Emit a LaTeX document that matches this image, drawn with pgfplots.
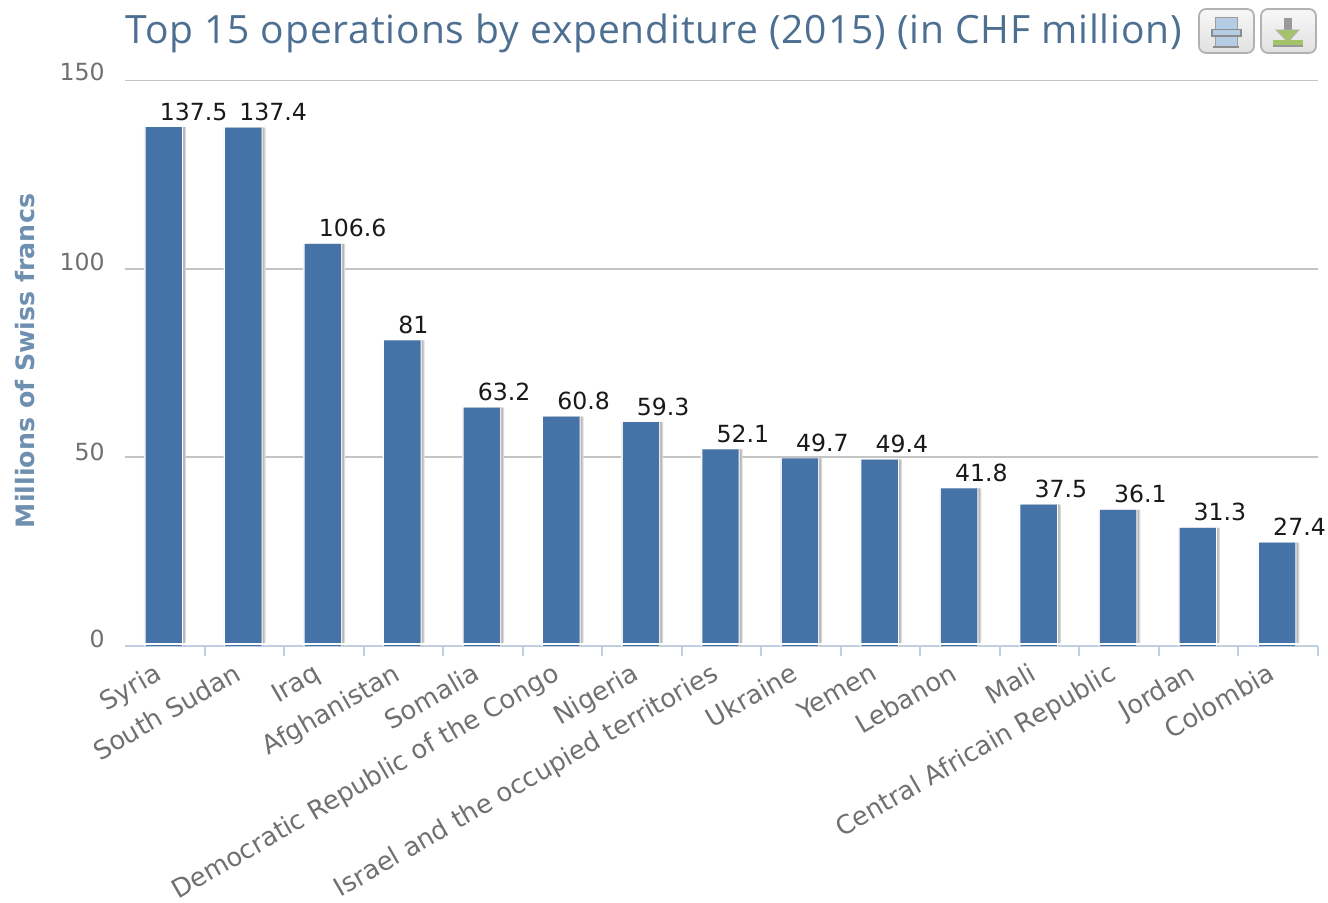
\documentclass[border=0pt]{standalone}
\usepackage{pgfplots}
\pgfplotsset{compat=1.18}
\usepackage{pgfplotstable}
\usepackage{fontspec}
\setmainfont{DejaVu Sans}
\newfontfamily\titlefont[LetterSpace=2.2]{Open Sans}
\definecolor{barblue}{HTML}{4572A7}
\definecolor{titleblue}{HTML}{4D6F91}
\definecolor{ylabblue}{HTML}{6E8FB0}
\definecolor{axisblue}{HTML}{C0D0E0}
\definecolor{gridgray}{HTML}{C4C4C4}
\definecolor{labgray}{HTML}{707070}
\definecolor{iconblue}{HTML}{B4CCE4}
\definecolor{icongreen}{HTML}{A4C46C}
\pgfplotstableread{
x v
0 137.5
1 137.4
2 106.6
3 81
4 63.2
5 60.8
6 59.3
7 52.1
8 49.7
9 49.4
10 41.8
11 37.5
12 36.1
13 31.3
14 27.4
}\expend
\begin{document}
\begin{tikzpicture}[x=1pt,y=1pt]
\path[use as bounding box] (0,0) rectangle (664,451);
\begin{axis}[
  at={(62.5pt,128pt)}, anchor=south west,
  scale only axis, width=596.5pt, height=283pt,
  xmin=-0.5, xmax=14.5, ymin=0, ymax=150,
  axis x line*=bottom, axis y line=none,
  ytick={0,50,100,150},
  xtick={0,...,14},
  xticklabels={Syria,South Sudan,Iraq,Afghanistan,Somalia,Democratic Republic of the Congo,Nigeria,Israel and the occupied territories,Ukraine,Yemen,Lebanon,Mali,Central Africain Republic,Jordan,Colombia},
  minor xtick={0.5,1.5,...,14.5},
  major tick length=0pt,
  minor tick length=5pt,
  tick align=outside,
  x axis line style={draw=axisblue,line width=1pt,-},
  minor x tick style={draw=axisblue,line width=1pt},
  xticklabel style={rotate=30,anchor=north east,font=\fontsize{12.9pt}{15pt}\selectfont,text=labgray,inner sep=0pt,xshift=-8.8pt,yshift=-3.8pt},
  /pgf/number format/assume math mode=true,
  clip=true,
]
\pgfplotsinvokeforeach{50,100,150}{
  \addplot[draw=gridgray,line width=1pt,forget plot] coordinates {(-0.5,#1) (14.5,#1)};
}
\addplot[ybar,bar width=20pt,bar shift=-0.4pt,fill=black!6,draw=none,forget plot] table[x=x,y=v] {\expend};
\addplot[ybar,bar width=19pt,bar shift=1.1pt,fill=black!14,draw=none,forget plot] table[x=x,y=v] {\expend};
\addplot[ybar,bar width=19pt,bar shift=0.5pt,fill=black!28,draw=none,forget plot] table[x=x,y=v] {\expend};
\addplot[ybar,bar width=19.2pt,bar shift=-0.5pt,fill=white,draw=none,forget plot] table[x=x,y=v] {\expend};
\addplot[ybar,bar width=18.2pt,bar shift=-0.5pt,fill=barblue,draw=none,
  nodes near coords,
  every node near coord/.style={anchor=base west,xshift=-2.7pt,yshift=3.5pt,inner sep=0pt,text=black!90,font=\fontsize{11.8pt}{14pt}\selectfont},
  clip=false,
] table[x=x,y=v] {\expend};
\addplot[draw=white,line width=1.2pt,forget plot] coordinates {(-0.5,0.6) (14.5,0.6)};
\end{axis}
% y axis text
\foreach \lab/\py in {150/415,100/320,50/225,0/131.5}{
  \node[anchor=east,inner sep=0pt,text=labgray,font=\fontsize{11.8pt}{14pt}\selectfont] at (52.5,\py) {\lab};
}
\node[rotate=90,text=ylabblue,font=\fontsize{12.65pt}{14pt}\selectfont\bfseries,inner sep=0pt] at (12.5,270.5) {Millions of Swiss francs};
\node[anchor=base west,inner sep=0pt,text=titleblue,font=\titlefont\fontsize{19.5pt}{22pt}\selectfont] at (62.5,429.2) {Top 15 operations by expenditure (2015) (in CHF million)};
% buttons
\foreach \bx in {599.5,630.5}{
  \draw[draw=black!30,line width=0.9pt,rounded corners=3.5pt,top color=black!3,bottom color=black!12] (\bx,424.5) rectangle ++(27.5,22);
}
% print icon
\fill[fill=iconblue,draw=black!38,line width=0.5pt] (607.5,436) rectangle (618.5,442);
\fill[fill=iconblue,draw=black!38,line width=0.5pt] (607.5,427.5) rectangle (618.5,433);
\fill[fill=iconblue,draw=black!45,line width=0.7pt] (606,433) rectangle (620.5,436.2);
\fill[black!45] (606.5,427) rectangle (619.5,428);
% download icon
\fill[black!40] (642,436) rectangle (646,442);
\fill[fill=icongreen,draw=black!30,line width=0.4pt] (638,436) -- (649.5,436) -- (644,430) -- cycle;
\fill[icongreen] (636.5,428.5) rectangle (651.5,431);
\fill[black!40] (636.5,427.5) rectangle (651.5,428.7);
\end{tikzpicture}
\end{document}
